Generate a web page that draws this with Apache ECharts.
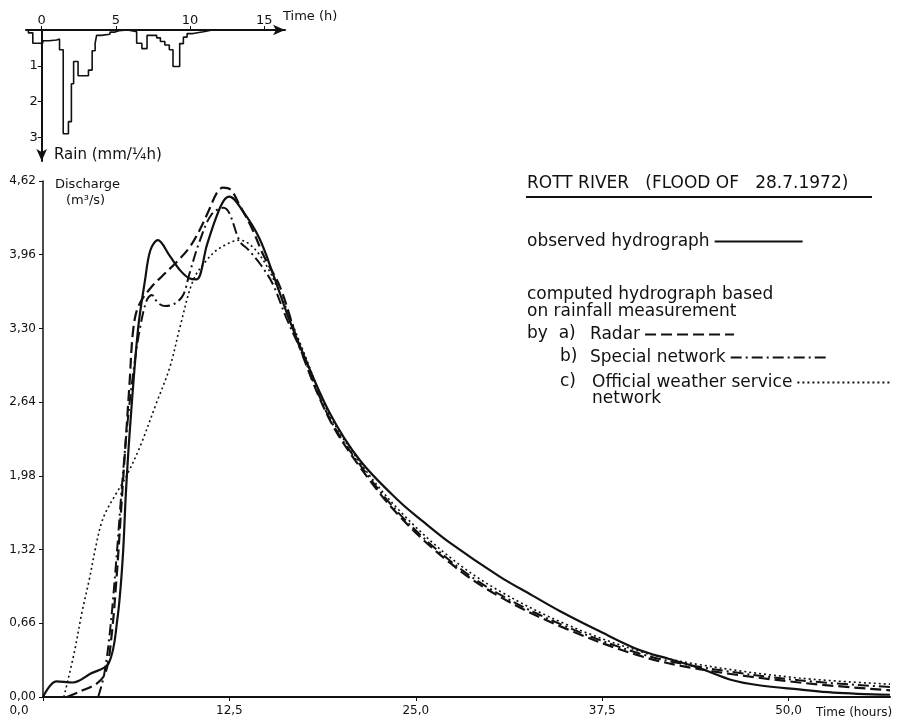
<!DOCTYPE html>
<html>
<head>
<meta charset="utf-8">
<script src="https://cdn.jsdelivr.net/npm/echarts@6/dist/echarts.min.js"></script>
<style>
  html, body { margin: 0; padding: 0; background: #fff; }
  #chart { width: 907px; height: 724px; }
</style>
</head>
<body>
<div id="chart"></div>
<script>
    // rain, mm per 1/4 h: [hour, depth] (value holds until the next hour)
    var rain = [
        [-1.06, 0], [-0.9, 0.08], [-0.6, 0.37], [0.0, 0.45], [0.1, 0.3], [0.5, 0.28], [1.0, 0.25],
        [1.2, 0.55], [1.45, 2.9], [1.8, 2.56], [2.0, 1.5], [2.15, 0.88], [2.45, 1.28], [3.15, 1.12],
        [3.4, 0.58], [3.6, 0.37], [3.7, 0.15], [4.0, 0.12], [4.6, 0.06], [4.9, 0.02], [5.2, 0],
        [5.8, 0.05], [6.4, 0.37], [6.75, 0.52], [7.1, 0.15], [7.75, 0.22], [8.0, 0.32], [8.3, 0.42],
        [8.6, 0.55], [8.85, 1.02], [9.3, 0.38], [9.55, 0.2], [9.8, 0.1], [10.2, 0.05], [10.9, 0], [11.5, 0]
    ];

    // discharge, m3/s: [hour, Q]
    var observed = [
        [0, 0], [0.9, 0.14], [2.0, 0.13], [3.2, 0.21], [4.4, 0.3], [4.98, 0.69], [5.34, 1.23],
        [5.56, 1.83], [5.83, 2.4], [6.37, 3.29], [6.84, 3.73], [7.2, 4.0], [7.7, 4.09], [8.5, 3.95],
        [9.2, 3.82], [9.8, 3.75], [10.3, 3.74], [11.0, 4.05], [11.6, 4.29], [12.1, 4.44], [12.5, 4.48],
        [13.4, 4.35], [14.5, 4.11], [15.5, 3.76], [16.4, 3.42], [17.3, 3.12], [19.2, 2.55], [21.25, 2.12],
        [23.9, 1.75], [25.5, 1.57], [27.3, 1.38], [30.6, 1.08], [32.8, 0.91], [34.65, 0.77], [37.3, 0.59],
        [40, 0.42], [42, 0.34], [44, 0.26], [46.25, 0.15], [48, 0.105], [50.7, 0.068], [53, 0.04], [56.8, 0.02]
    ];
    var radar = [
        [1.6, 0], [2.5, 0.05], [3.6, 0.12], [4.2, 0.22], [4.6, 0.55], [4.95, 1.1], [5.25, 1.7],
        [5.55, 2.3], [5.8, 2.8], [6.05, 3.29], [6.4, 3.5], [7.2, 3.66], [8.0, 3.77], [9.0, 3.9],
        [9.85, 4.03], [10.5, 4.18], [11.2, 4.38], [11.64, 4.51], [12.06, 4.56], [12.6, 4.54], [13.2, 4.4],
        [14.0, 4.2], [14.8, 3.95], [15.9, 3.67], [17.3, 3.1], [19.2, 2.49], [21.25, 2.06], [23.9, 1.62],
        [27.3, 1.2], [30.6, 0.9], [35.1, 0.61], [40, 0.37], [44, 0.25], [50.7, 0.13], [56.8, 0.06]
    ];
    var special = [
        [3.7, 0], [4.1, 0.2], [4.5, 0.6], [4.9, 1.2], [5.3, 1.9], [5.7, 2.5], [6.1, 2.95], [6.5, 3.3],
        [6.95, 3.55], [7.3, 3.6], [7.7, 3.53], [8.2, 3.5], [8.8, 3.52], [9.4, 3.6], [9.8, 3.78],
        [10.5, 4.08], [11.3, 4.32], [12.1, 4.38], [12.5, 4.33], [13.2, 4.08], [13.8, 4.0], [14.6, 3.87],
        [15.4, 3.7], [16.3, 3.4], [17.3, 3.1], [19.2, 2.5], [21.25, 2.08], [23.9, 1.64], [27.3, 1.22],
        [30.6, 0.92], [35.1, 0.63], [40, 0.39], [44, 0.27], [50.7, 0.15], [56.8, 0.09]
    ];
    var official = [
        [1.4, 0], [2.1, 0.4], [2.6, 0.75], [3.1, 1.05], [3.5, 1.32], [3.9, 1.55], [4.3, 1.68],
        [4.9, 1.82], [5.6, 1.98], [6.5, 2.24], [7.6, 2.63], [8.5, 2.95], [9.2, 3.32], [10.07, 3.73],
        [10.97, 3.91], [11.86, 4.02], [13.2, 4.09], [14.4, 3.98], [15.7, 3.67], [17.3, 3.15], [19.2, 2.53],
        [21.25, 2.1], [23.9, 1.67], [27.3, 1.25], [30.6, 0.95], [35.1, 0.65], [40, 0.41], [44, 0.29],
        [50.7, 0.17], [56.8, 0.115]
    ];

    var timeTicks = [0, 12.5, 25, 37.5, 50];
    var rainTimeTicks = [0, 5, 10, 15];
    var rainTicks = [1, 2, 3];

    var ink = '#111';
    var font = 'DejaVu Sans';

    function comma(v, d) {
        return v.toFixed(d).replace('.', ',');
    }

    function curve(name, data, type, width) {
        return {
            name: name,
            type: 'line',
            data: data,
            symbol: 'none',
            smooth: 0.35,
            lineStyle: { color: ink, width: width, type: type },
            itemStyle: { color: ink }
        };
    }

    // one legend per entry, text first and the line sample after it
    function legendAt(name, left, top, width) {
        return {
            data: [name],
            left: left,
            top: top,
            align: 'right',
            itemWidth: width,
            itemHeight: 10,
            selectedMode: false,
            padding: 0,
            itemStyle: { opacity: 0 },
            textStyle: { fontFamily: font, fontSize: 17, color: ink }
        };
    }

    var chart = echarts.init(document.getElementById('chart'));
    var option = {
        animation: false,
        backgroundColor: '#fff',
        textStyle: { fontFamily: font },
        title: {
            text: 'ROTT RIVER   (FLOOD OF   28.7.1972)',
            left: 527,
            top: 175,
            padding: 0,
            textStyle: { fontFamily: font, fontSize: 17, fontWeight: 'normal', color: ink }
        },
        legend: [
            legendAt('observed hydrograph', 527, 233, 88),
            legendAt('Radar', 590, 326, 89),
            legendAt('Special network', 590, 349, 98),
            legendAt('Official weather service', 592, 374, 93)
        ],
        grid: [
            { left: 43, top: 181, right: 17, bottom: 27 },
            { left: 26, top: 30, width: 259, height: 131 }
        ],
        xAxis: [
            {
                type: 'value',
                min: 0,
                max: 56.8,
                splitLine: { show: false },
                axisLine: { lineStyle: { color: ink, width: 2 } },
                axisTick: { customValues: timeTicks, length: 4, lineStyle: { color: ink } },
                axisLabel: {
                    customValues: timeTicks,
                    color: ink,
                    fontSize: 12,
                    margin: 8,
                    formatter: function (v) {
                        return v === 0 ? '{z|0,0}' : comma(v, 1);
                    },
                    rich: { z: { fontSize: 12, color: ink, padding: [0, 48, 0, 0] } }
                }
            },
            {
                gridIndex: 1,
                type: 'value',
                min: -1.06,
                max: 16.4,
                position: 'top',
                splitLine: { show: false },
                axisLine: { symbol: ['none', 'arrow'], symbolSize: [8, 12], lineStyle: { color: ink, width: 2 } },
                axisTick: { customValues: rainTimeTicks, length: 4, lineStyle: { color: ink } },
                axisLabel: { customValues: rainTimeTicks, color: ink, fontSize: 13, margin: 3 }
            }
        ],
        yAxis: [
            {
                type: 'value',
                min: 0,
                max: 4.62,
                interval: 0.66,
                splitLine: { show: false },
                axisLine: { show: true, lineStyle: { color: ink, width: 1.5 } },
                axisTick: { show: true, length: 4, lineStyle: { color: ink } },
                axisLabel: {
                    color: ink,
                    fontSize: 12,
                    margin: 7,
                    formatter: function (v) { return comma(v, 2); }
                }
            },
            {
                gridIndex: 1,
                type: 'value',
                inverse: true,
                min: 0,
                max: 3.66,
                offset: -15.7,
                splitLine: { show: false },
                axisLine: { show: true, onZero: false, symbol: ['arrow', 'none'], symbolSize: [8, 12], lineStyle: { color: ink, width: 2 } },
                axisTick: { show: true, customValues: rainTicks, length: 4, lineStyle: { color: ink } },
                axisLabel: { customValues: rainTicks, color: ink, fontSize: 13, margin: 4 }
            }
        ],
        graphic: [
            { type: 'line', shape: { x1: 526, y1: 197, x2: 872, y2: 197 }, style: { stroke: ink, lineWidth: 2 } },
            { type: 'text', left: 527, top: 286, style: { text: 'computed hydrograph based\non rainfall measurement', fontFamily: font, fontSize: 17, lineHeight: 17, fill: ink } },
            { type: 'text', left: 527, top: 325, style: { text: 'by  a)', fontFamily: font, fontSize: 17, fill: ink } },
            { type: 'text', left: 560, top: 348, style: { text: 'b)', fontFamily: font, fontSize: 17, fill: ink } },
            { type: 'text', left: 560, top: 373, style: { text: 'c)', fontFamily: font, fontSize: 17, fill: ink } },
            { type: 'text', left: 592, top: 390, style: { text: 'network', fontFamily: font, fontSize: 17, fill: ink } },
            { type: 'text', left: 55, top: 178, style: { text: 'Discharge', fontFamily: font, fontSize: 13, fill: ink } },
            { type: 'text', left: 66, top: 194, style: { text: '(m³/s)', fontFamily: font, fontSize: 13, fill: ink } },
            { type: 'text', left: 816, top: 707, style: { text: 'Time (hours)', fontFamily: font, fontSize: 12, fill: ink } },
            { type: 'text', left: 283, top: 10, style: { text: 'Time (h)', fontFamily: font, fontSize: 13, fill: ink } },
            { type: 'text', left: 54, top: 148, style: { text: 'Rain (mm/¼h)', fontFamily: font, fontSize: 15, fill: ink } }
        ],
        series: [
            curve('observed hydrograph', observed, 'solid', 2.2),
            curve('Radar', radar, [11, 5], 2.2),
            curve('Special network', special, [11, 4, 2, 4], 2),
            curve('Official weather service', official, [2, 3], 1.6),
            {
                name: 'rain',
                type: 'line',
                xAxisIndex: 1,
                yAxisIndex: 1,
                step: 'end',
                symbol: 'none',
                data: rain,
                lineStyle: { color: ink, width: 1.6 }
            }
        ]
    };
    chart.setOption(option);
</script>
</body>
</html>
